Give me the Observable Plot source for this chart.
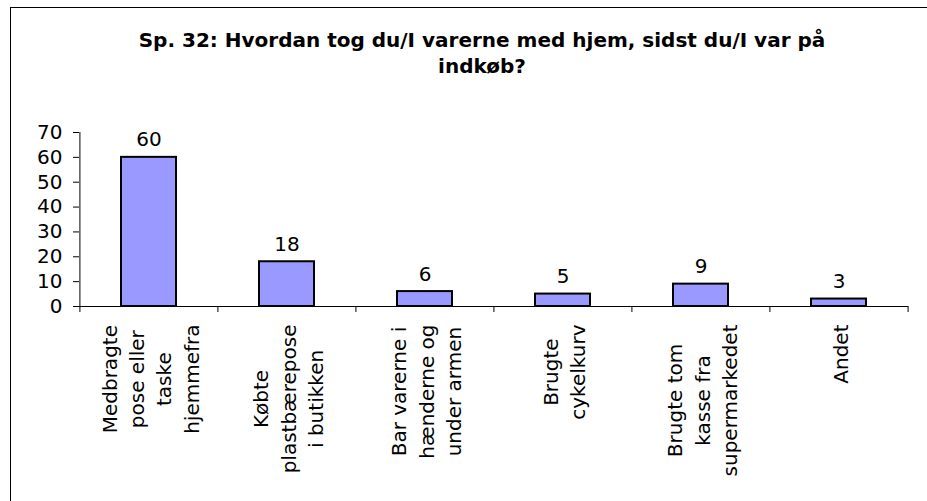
<!DOCTYPE html>
<html>
<head>
<meta charset="utf-8">
<script src="https://cdn.jsdelivr.net/npm/d3@7"></script>
<script src="https://cdn.jsdelivr.net/npm/@observablehq/plot@0.6"></script>
<style>
  html { overflow: hidden; margin: 0; padding: 0; background: #fff; }
  body { margin: 0; padding: 0; background: #fff; width: 927px; height: 501px; position: relative; overflow: hidden; font-family: "DejaVu Sans", sans-serif; }
  #frame { position: absolute; left: 10px; top: 7px; right: 0; bottom: 0; border-left: 1.5px solid #000; border-top: 1.5px solid #000; }
  #title { position: absolute; left: 0; top: 27px; width: 927px; box-sizing: border-box; padding-left: 37px; text-align: center; font-weight: bold; font-size: 20px; line-height: 26px; color: #000; white-space: nowrap; }
  #chart { position: absolute; left: 0; top: 100px; width: 927px; height: 401px; overflow: hidden; }
</style>
</head>
<body>
<div id="frame"></div>
<div id="title">Sp. 32: Hvordan tog du/I varerne med hjem, sidst du/I var på<br>indkøb?</div>
<div id="chart"></div>
<script>
const categories = [
  "Medbragte pose eller taske hjemmefra",
  "Købte plastbærepose i butikken",
  "Bar varerne i hænderne og under armen",
  "Brugte cykelkurv",
  "Brugte tom kasse fra supermarkedet",
  "Andet"
];
const tickLabels = [
  "Medbragte\npose eller\ntaske\nhjemmefra",
  "Købte\nplastbærepose\ni butikken",
  "Bar varerne i\nhænderne og\nunder armen",
  "Brugte\ncykelkurv",
  "Brugte tom\nkasse fra\nsupermarkedet",
  "Andet"
];
const values = [60, 18, 6, 5, 9, 3];
const yTicks = [0, 10, 20, 30, 40, 50, 60, 70];

const data = categories.map((c, i) => ({category: c, value: values[i], label: tickLabels[i]}));

const W = 927, H = 401, mL = 79, mR = 19, mT = 32, mB = 195;
const step = (W - mL - mR) / categories.length;
const fontSize = 20;

const ctx = document.createElement("canvas").getContext("2d");
ctx.font = `${fontSize}px "DejaVu Sans"`;
const maxLineWidth = s => Math.max(...s.split("\n").map(l => ctx.measureText(l).width));

const labelMarks = data.map(d => Plot.text([d], {
  x: "category",
  text: "label",
  frameAnchor: "bottom",
  rotate: -90,
  textAnchor: "middle",
  lineAnchor: "middle",
  lineHeight: 1.37,
  fontSize: fontSize,
  fill: "#000",
  dy: 18 + maxLineWidth(d.label) / 2
}));

const chart = Plot.plot({
  width: W,
  height: H,
  marginLeft: mL,
  marginRight: mR,
  marginTop: mT,
  marginBottom: mB,
  style: {fontFamily: "DejaVu Sans", fontSize: "20px", color: "#000", background: "transparent"},
  x: {domain: categories, paddingInner: 0.6, paddingOuter: 0.3, axis: null},
  y: {domain: [0, 70], ticks: yTicks, tickSize: 6, tickPadding: 11, label: null},
  marks: [
    Plot.axisY({ticks: yTicks, tickSize: 6, tickPadding: 11, label: null, fontSize: 20, stroke: "#000", strokeWidth: 1}),
    Plot.barY(data, {x: "category", y: "value", fill: "#9999FF", stroke: "#000", strokeWidth: 2}),
    Plot.ruleY([0], {stroke: "#000", strokeWidth: 1}),
    Plot.ruleX([categories[0]], {x: d => d, y1: 0, y2: 70, dx: -step / 2, stroke: "#000", strokeWidth: 1}),
    Plot.ruleX(categories, {x: d => d, y1: 0, y2: 0, insetBottom: -6, dx: -step / 2, stroke: "#000", strokeWidth: 1}),
    Plot.ruleX([categories[categories.length - 1]], {x: d => d, y1: 0, y2: 0, insetBottom: -6, dx: step / 2, stroke: "#000", strokeWidth: 1}),
    Plot.text(data, {x: "category", y: "value", text: d => String(d.value), lineAnchor: "bottom", dy: -11, fontSize: 20, fill: "#000"}),
    ...labelMarks
  ]
});
document.getElementById("chart").appendChild(chart);
</script>
</body>
</html>
